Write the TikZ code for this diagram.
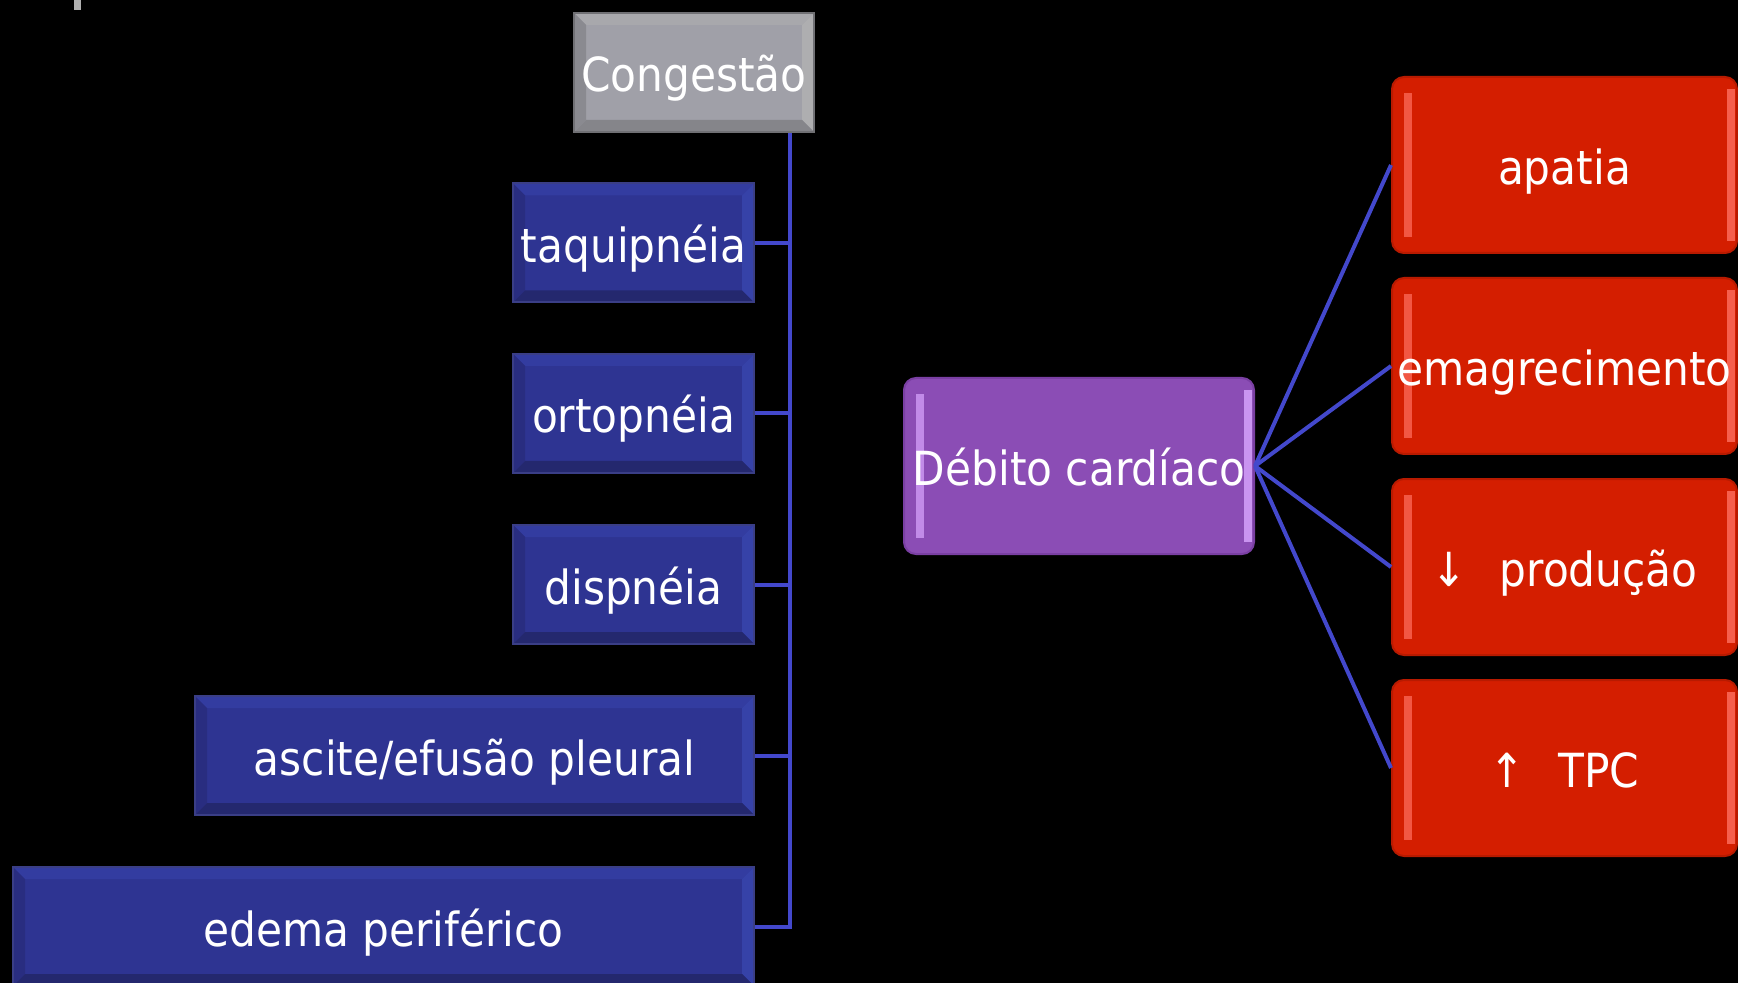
\documentclass[tikz,border=0pt]{standalone}
\usepackage{fontspec}
\setmainfont{DejaVu Sans Condensed}
\definecolor{bfill}{HTML}{2E3492}
\definecolor{bborder}{HTML}{3A3E86}
\definecolor{btop}{HTML}{333CA0}
\definecolor{bright}{HTML}{3642A8}
\definecolor{bleft}{HTML}{292D80}
\definecolor{bbot}{HTML}{24286E}
\definecolor{gfill}{HTML}{A0A0A8}
\definecolor{gborder}{HTML}{707074}
\definecolor{gtop}{HTML}{A8A8AC}
\definecolor{gright}{HTML}{AEAEB0}
\definecolor{gleft}{HTML}{8A8A90}
\definecolor{gbot}{HTML}{85858A}
\definecolor{pfill}{HTML}{8B4DB5}
\definecolor{pborder}{HTML}{7A3FA3}
\definecolor{plight}{HTML}{D9A6FF}
\definecolor{rfill}{HTML}{D41E00}
\definecolor{rborder}{HTML}{B81A00}
\definecolor{rlight}{HTML}{FF7060}
\definecolor{conn}{HTML}{4348CC}
\definecolor{tickgrey}{HTML}{B0B0B0}
\newcommand\bevelbox[5]{%
  \fill[#1] (path picture bounding box.north west) -- (path picture bounding box.north east)
    -- ([shift={(-#5,-#5)}]path picture bounding box.north east) -- ([shift={(#5,-#5)}]path picture bounding box.north west) -- cycle;
  \fill[#2] (path picture bounding box.north west) -- (path picture bounding box.south west)
    -- ([shift={(#5,#5)}]path picture bounding box.south west) -- ([shift={(#5,-#5)}]path picture bounding box.north west) -- cycle;
  \fill[#3] (path picture bounding box.north east) -- (path picture bounding box.south east)
    -- ([shift={(-#5,#5)}]path picture bounding box.south east) -- ([shift={(-#5,-#5)}]path picture bounding box.north east) -- cycle;
  \fill[#4] (path picture bounding box.south west) -- (path picture bounding box.south east)
    -- ([shift={(-#5,#5)}]path picture bounding box.south east) -- ([shift={(#5,#5)}]path picture bounding box.south west) -- cycle;}
\newcommand\glossbox[1]{%
  \fill[#1, opacity=0.7, sharp corners] ([shift={(6pt,-8pt)}]path picture bounding box.north west) rectangle ([shift={(10pt,8pt)}]path picture bounding box.south west);
  \fill[#1, opacity=0.8, sharp corners] ([shift={(-5pt,-6pt)}]path picture bounding box.north east) rectangle ([shift={(-1pt,6pt)}]path picture bounding box.south east);}
\tikzset{
  box/.style={draw, line width=1pt, inner sep=0pt, text=white, align=center,
    text height=19.5pt, text depth=0pt,
    font=\fontsize{23.5}{28}\selectfont},
  bluebox/.style={box, fill=bfill, draw=bborder, minimum height=59.5pt,
    path picture={\bevelbox{btop}{bleft}{bright}{bbot}{6pt}}},
  greybox/.style={box, fill=gfill, draw=gborder, minimum width=120pt, minimum height=59.5pt,
    path picture={\bevelbox{gtop}{gleft}{gright}{gbot}{6pt}}},
  purplebox/.style={box, fill=pfill, draw=pborder, rounded corners=6pt, minimum width=175pt, minimum height=88pt,
    path picture={\glossbox{plight}}},
  redbox/.style={box, fill=rfill, draw=rborder, rounded corners=6pt, minimum width=172.5pt, minimum height=88pt,
    path picture={\glossbox{rlight}}},
  link/.style={draw=conn, line width=2pt},
}
\begin{document}
\begin{tikzpicture}[x=0.5pt, y=-0.5pt]
\useasboundingbox (0,0) rectangle (1738,983);
\fill[black] (0,0) rectangle (1738,983);
\fill[tickgrey] (74,0) rectangle (81,10);
% left tree
\node[greybox] (cong) at (694,72.5) {Congestão};
\node[bluebox, minimum width=120.5pt] (taq) at (633.5,243) {taquipnéia};
\node[bluebox, minimum width=120.5pt] (ort) at (633.5,413.5) {ortopnéia};
\node[bluebox, minimum width=120.5pt] (dis) at (633.5,584.5) {dispnéia};
\node[bluebox, minimum width=279.5pt] (asc) at (474.5,755.5) {ascite/efusão pleural};
\node[bluebox, minimum width=370.5pt] (ede) at (383.5,926.5) {edema periférico};
\coordinate (sp) at (790,0);
\draw[link] (cong.south -| sp) -- (ede.east -| sp) -- (ede.east);
\foreach \n in {taq,ort,dis,asc} \draw[link] (\n.east) -- (\n.east -| sp);
% right tree
\node[purplebox] (deb) at (1079,466) {Débito cardíaco};
\node[redbox] (apa) at (1564.5,165) {apatia};
\node[redbox] (ema) at (1564.5,366) {emagrecimento};
\node[redbox] (pro) at (1564.5,567) {↓\hspace{0.7em}produção};
\node[redbox] (tpc) at (1564.5,768) {↑\hspace{0.7em}TPC};
\foreach \n in {apa,ema,pro,tpc} \draw[link] (deb.east) -- (\n.west);
\end{tikzpicture}
\end{document}
